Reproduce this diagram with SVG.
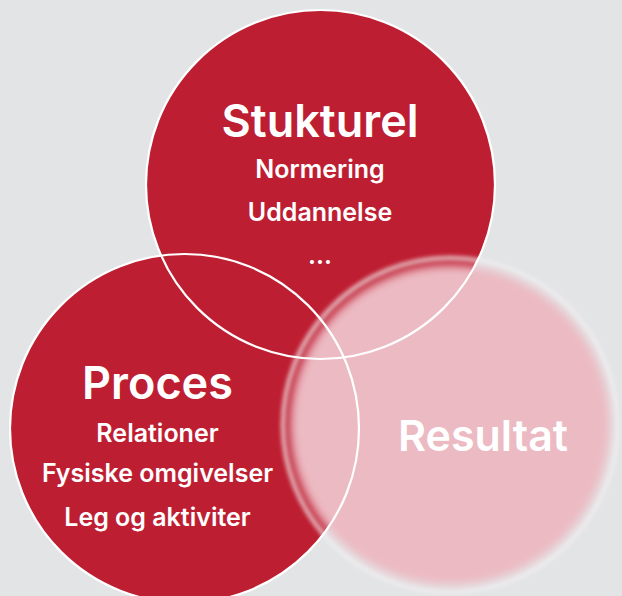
<svg xmlns="http://www.w3.org/2000/svg" width="622" height="596" viewBox="0 0 622 596">
<style>
.red{fill:#be1e31}
.ol{fill:none;stroke:#ffffff;stroke-width:2.2}
.h{font-family:Inter,"Noto Sans",sans-serif;font-weight:600;fill:#ffffff;text-anchor:middle}
.big{font-size:45px}
.sm{font-size:25px}
.res{font-size:43px}
</style>
<defs>
<filter id="soft" x="-20%" y="-20%" width="140%" height="140%"><feGaussianBlur stdDeviation="5"/></filter>
<filter id="soft2" x="-20%" y="-20%" width="140%" height="140%"><feGaussianBlur stdDeviation="2"/></filter>
</defs>
<rect width="622" height="596" fill="#e3e4e6"/>
<g id="stukturel-fill"><circle class="red" cx="320.5" cy="184.5" r="174.5"/></g>
<g id="proces-fill"><circle class="red" cx="184.5" cy="428.5" r="174.5"/></g>
<g id="resultat">
<circle cx="450" cy="425" r="167" fill="none" stroke="#f2f2f3" stroke-width="4" opacity="0.8" filter="url(#soft2)"/>
<circle cx="450" cy="425" r="160" fill="#ecbac2" filter="url(#soft)"/>
<text class="h res" x="483" y="451">Resultat</text>
</g>
<g id="outlines">
<circle class="ol" cx="320.5" cy="184.5" r="174.5"/>
<circle class="ol" cx="184.5" cy="428.5" r="174.5"/>
</g>
<g id="stukturel">
<text class="h big" x="320" y="137">Stukturel</text>
<text class="h sm" x="320" y="178">Normering</text>
<text class="h sm" x="320" y="221">Uddannelse</text>
<text class="h sm" x="320" y="264">...</text>
</g>
<g id="proces">
<text class="h big" x="157.5" y="399">Proces</text>
<text class="h sm" x="157.5" y="442">Relationer</text>
<text class="h sm" x="157.5" y="482">Fysiske omgivelser</text>
<text class="h sm" x="157.5" y="526">Leg og aktiviter</text>
</g>
</svg>
